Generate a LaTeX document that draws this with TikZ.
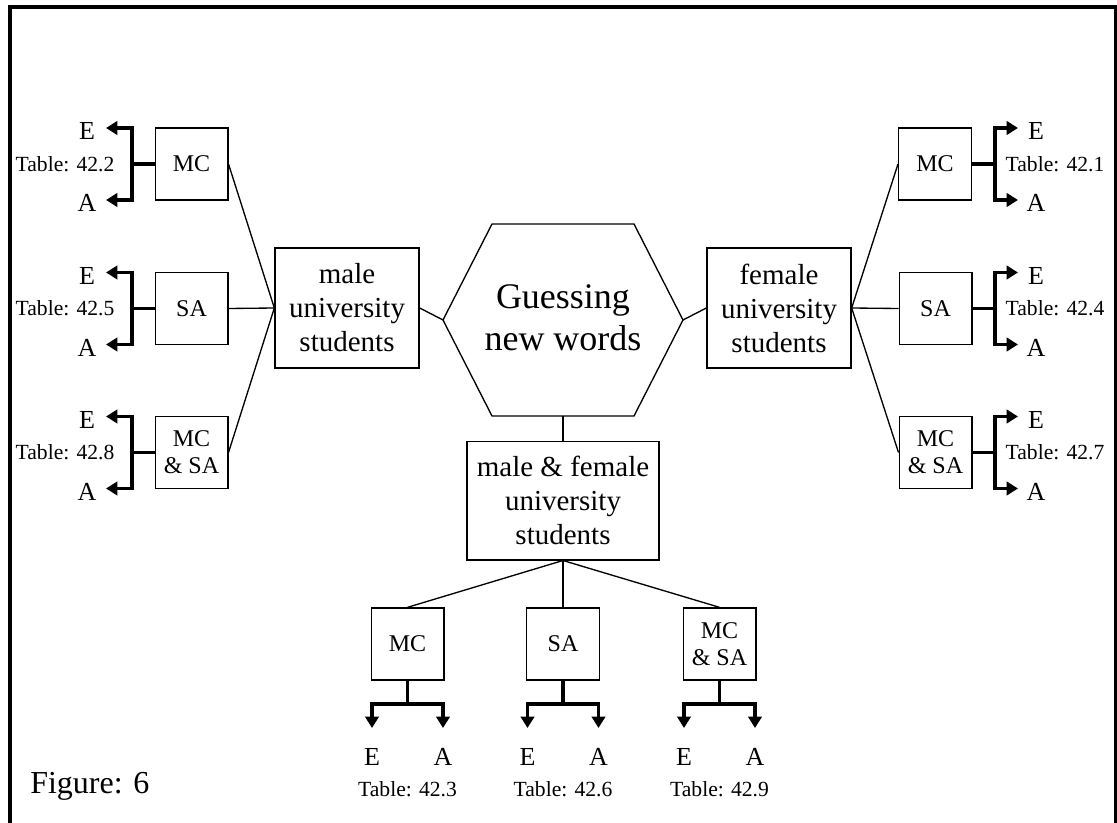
\documentclass[tikz,border=0pt]{standalone}
\usepackage{fontspec}
\setmainfont{Liberation Serif}
\usetikzlibrary{arrows.meta}

% Three-way fork with two arrow tips, pointing left, right or down.
% #1 = box name, #2 = table label
\newcommand\forkwest[2]{%
  \coordinate (#1-j) at (132,0 |- #1.center);
  \coordinate (#1-e) at ([yshift=36*0.75pt]106,0 |- #1.center);
  \coordinate (#1-a) at ([yshift=-36*0.75pt]106,0 |- #1.center);
  \draw[fork] (#1.west) -- (#1-j);
  \draw[tips] (#1-e) -- (#1-e -| #1-j) -- (#1-a -| #1-j) -- (#1-a);
  \node[lbl] (#1-E) at ([yshift=-3*0.75pt]87,0 |- #1-e) {E};
  \node[lbl] (#1-A) at ([yshift=-3*0.75pt]87,0 |- #1-a) {A};
  \node[tbl] (#1-T) at (65,0 |- #1.center) {Table: #2};
}
\newcommand\forkeast[2]{%
  \coordinate (#1-j) at (995,0 |- #1.center);
  \coordinate (#1-e) at ([yshift=36*0.75pt]1018,0 |- #1.center);
  \coordinate (#1-a) at ([yshift=-36*0.75pt]1018,0 |- #1.center);
  \draw[fork] (#1.east) -- (#1-j);
  \draw[tips] (#1-e) -- (#1-e -| #1-j) -- (#1-a -| #1-j) -- (#1-a);
  \node[lbl] (#1-E) at ([yshift=-3*0.75pt]1036,0 |- #1-e) {E};
  \node[lbl] (#1-A) at ([yshift=-3*0.75pt]1036,0 |- #1-a) {A};
  \node[tbl] (#1-T) at (1055,0 |- #1.center) {Table: #2};
}
\newcommand\forksouth[2]{%
  \coordinate (#1-j) at (#1.center |- 0,704);
  \coordinate (#1-e) at ([xshift=-35.5*0.75pt]#1.center |- 0,728);
  \coordinate (#1-a) at ([xshift=35.5*0.75pt]#1.center |- 0,728);
  \draw[fork] (#1.south) -- (#1-j);
  \draw[tips] (#1-e) -- (#1-e |- #1-j) -- (#1-a |- #1-j) -- (#1-a);
  \node[lbl] (#1-E) at (#1-e |- 0,757) {E};
  \node[lbl] (#1-A) at (#1-a |- 0,757) {A};
  \node[tbl] (#1-T) at (#1.center |- 0,789) {Table: #2};
}

\tikzset{
  box/.style={draw, line width=1pt, inner sep=0pt, align=center},
  test/.style={box, minimum width=54.5pt, minimum height=54pt,
    font=\fontsize{18pt}{20.25pt}\selectfont},
  group/.style={box, minimum width=108pt, minimum height=90pt,
    font=\fontsize{21.75pt}{25.5pt}\selectfont},
  link/.style={line width=1pt},
  fork/.style={line width=2.3pt},
  tips/.style={fork, line join=miter,
    {Triangle[length=8.5pt,width=10pt]}-{Triangle[length=8.5pt,width=10pt]}},
  lbl/.style={inner sep=0pt, font=\fontsize{19.5pt}{22pt}\selectfont},
  tbl/.style={inner sep=0pt, font=\fontsize{16.2pt}{18pt}\selectfont},
  frame/.style={line width=2.3pt},
}

\begin{document}
\begin{tikzpicture}[x=0.75pt, y=-0.75pt]
\useasboundingbox (0,0) rectangle (1117,823);

% outer frame (open at the bottom edge of the page)
\draw[frame] (10,830) -- (10,7) -- (1115.5,7) -- (1115.5,830);

% central hexagon
\coordinate (hexW)  at (443,320);
\coordinate (hexNW) at (492,224);
\coordinate (hexNE) at (634,224);
\coordinate (hexE)  at (683,320);
\coordinate (hexSE) at (634,416);
\coordinate (hexSW) at (492,416);
\coordinate (hexS)  at (563,416);
\draw[link] (hexW) -- (hexNW) -- (hexNE) -- (hexE) -- (hexSE) -- (hexSW) -- cycle;
\node[inner sep=0pt, align=center, font=\fontsize{27pt}{31.5pt}\selectfont]
  (topic) at (563,318) {Guessing\\new words};

% student groups
\node[group] (male)   at (347,308)   {male\\university\\students};
\node[group] (female) at (779,308)   {female\\university\\students};
\node[group, minimum width=144pt, minimum height=89pt]
  (both) at (563,500.5) {male \& female\\university\\students};

% test types
\node[test] (mcL)   at (191.5,164)   {MC};
\node[test] (saL)   at (191.5,308.5) {SA};
\node[test] (mcsaL) at (191.5,452.5) {MC\\\& SA};
\node[test] (mcR)   at (935,164)     {MC};
\node[test] (saR)   at (935.5,308.5) {SA};
\node[test] (mcsaR) at (935.5,452.5) {MC\\\& SA};
\node[test] (mcB)   at (407.5,644)   {MC};
\node[test] (saB)   at (563,644)     {SA};
\node[test] (mcsaB) at (719.5,644)   {MC\\\& SA};

% connectors
\draw[link] (male.east) -- (hexW);
\draw[link] (female.west) -- (hexE);
\draw[link] (hexS) -- (both.north);
\foreach \t in {mcL,saL,mcsaL} \draw[link] (male.west) -- (\t.east);
\foreach \t in {mcR,saR,mcsaR} \draw[link] (female.east) -- (\t.west);
\foreach \t in {mcB,saB,mcsaB} \draw[link] (both.south) -- (\t.north);

% result forks
\forkwest{mcL}{42.2}
\forkwest{saL}{42.5}
\forkwest{mcsaL}{42.8}
\forkeast{mcR}{42.1}
\forkeast{saR}{42.4}
\forkeast{mcsaR}{42.7}
\forksouth{mcB}{42.3}
\forksouth{saB}{42.6}
\forksouth{mcsaB}{42.9}

\node[anchor=base west, inner sep=0pt, font=\fontsize{24pt}{28pt}\selectfont]
  (figlabel) at (30,793) {Figure: 6};
\end{tikzpicture}
\end{document}
